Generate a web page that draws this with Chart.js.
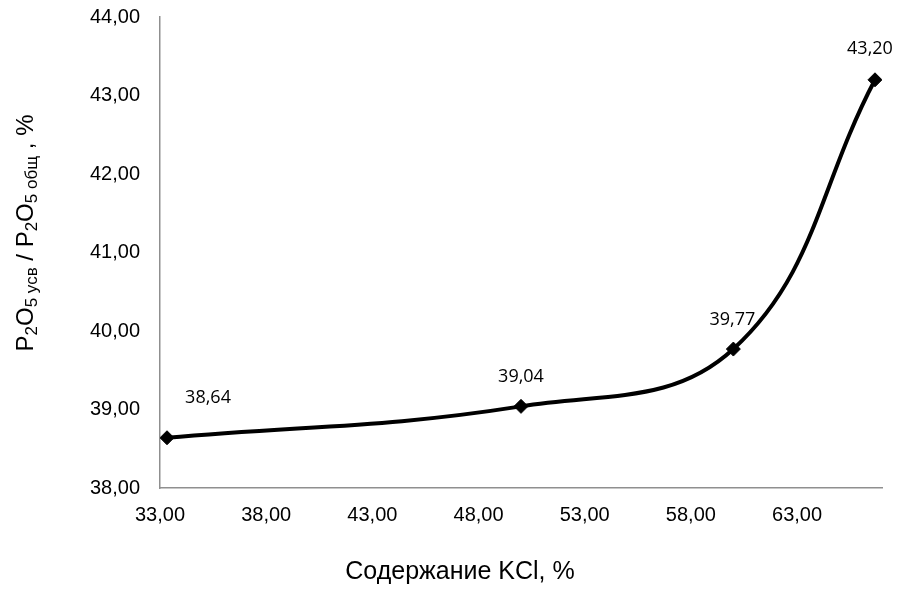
<!DOCTYPE html>
<html>
<head>
<meta charset="utf-8">
<script src="https://cdn.jsdelivr.net/npm/chart.js@4"></script>
<style>
  html,body{margin:0;padding:0;background:#fff;}
  #wrap{width:903px;height:589px;position:relative;}
</style>
</head>
<body>
<div id="wrap"><canvas id="c" width="903" height="589"></canvas></div>
<script>
// data
const kclContent = [33.33, 50.0, 60.0, 66.67];
const p2o5Ratio  = [38.64, 39.04, 39.77, 43.20];
const pointLabels = ["38,64", "39,04", "39,77", "43,20"];
// label placement relative to marker (px)
const labelOffsets = [[41,-40],[0,-29],[-1,-29],[-5,-31]];

const X_MIN = 33, X_MAX = 67, X_STEP = 5;
const Y_MIN = 38, Y_MAX = 44, Y_STEP = 1;

const fmt = v => v.toFixed(2).replace(".", ",");
const AXIS_FONT = "'Liberation Sans', Arial, sans-serif";

// values on the points
const pointLabelPlugin = {
  id: "pointLabels",
  afterDatasetsDraw(chart){
    const ctx = chart.ctx, meta = chart.getDatasetMeta(0);
    ctx.save();
    ctx.font = "18px 'Open Sans', 'Noto Sans', sans-serif";
    ctx.fillStyle = "#000";
    ctx.textAlign = "center"; ctx.textBaseline = "middle";
    meta.data.forEach((pt,i)=>{
      const o = labelOffsets[i];
      ctx.fillText(pointLabels[i], pt.x + o[0], pt.y + o[1]);
    });
    ctx.restore();
  }
};

// axis titles; the y one has subscripts: P2O5 усв / P2O5 общ , %
const titlesPlugin = {
  id: "titles",
  afterDraw(chart){
    const ctx = chart.ctx;
    ctx.save();
    ctx.fillStyle = "#000";
    ctx.font = "25px " + AXIS_FONT;
    ctx.textAlign = "center"; ctx.textBaseline = "middle";
    ctx.fillText("Содержание KCl, %", 460, 572);

    const parts = [
      ["P",0],["2",1],["O",0],["5 усв",1],[" / P",0],["2",1],["O",0],["5 общ",1],[" , %",0]
    ];
    const big = "24px " + AXIS_FONT, small = "17px " + AXIS_FONT;
    let total = 0;
    for(const [t,s] of parts){ ctx.font = s?small:big; total += ctx.measureText(t).width; }
    ctx.translate(24, 233);
    ctx.rotate(-Math.PI/2);
    ctx.textBaseline = "alphabetic"; ctx.textAlign = "left";
    let x = -total/2;
    for(const [t,s] of parts){
      ctx.font = s?small:big;
      ctx.fillText(t, x, s ? 13 : 9);
      x += ctx.measureText(t).width;
    }
    ctx.restore();
  }
};

const noEdgePadding = s => { s.paddingTop = 0; s.paddingBottom = 0; s.paddingLeft = 0; s.paddingRight = 0; };

new Chart(document.getElementById("c"), {
  type: "scatter",
  data: {
    datasets: [{
      data: kclContent.map((x,i)=>({x, y:p2o5Ratio[i]})),
      showLine: true,
      tension: 0.4,
      borderColor: "#000",
      borderWidth: 4,
      pointStyle: "rectRot",
      pointRadius: 7,
      pointHoverRadius: 7,
      pointBackgroundColor: "#000",
      pointBorderColor: "#000",
      pointBorderWidth: 1
    }]
  },
  options: {
    responsive: false,
    animation: false,
    events: [],
    layout: { padding: { top: 17, right: 21, left: 0, bottom: 0 } },
    plugins: { legend: { display: false }, tooltip: { enabled: false } },
    scales: {
      x: {
        type: "linear", min: X_MIN, max: X_MAX,
        afterBuildTicks: s => {
          const t = [];
          for(let v = X_MIN; v <= X_MAX; v += X_STEP) t.push({value: v});
          s.ticks = t;
        },
        afterFit: s => { s.height = 101; noEdgePadding(s); },
        grid: { display: false, drawTicks: false },
        border: { display: true, color: "#8f8f8f", width: 1.5 },
        ticks: { padding: 15, color: "#000", font: { family: AXIS_FONT, size: 20 }, callback: v => fmt(v), maxRotation: 0 }
      },
      y: {
        type: "linear", min: Y_MIN, max: Y_MAX,
        ticks: { stepSize: Y_STEP, padding: 20, color: "#000", font: { family: AXIS_FONT, size: 20 }, callback: v => fmt(v) },
        afterFit: s => { s.width = 160; noEdgePadding(s); },
        grid: { display: false, drawTicks: false },
        border: { display: true, color: "#8f8f8f", width: 1.5 }
      }
    }
  },
  plugins: [pointLabelPlugin, titlesPlugin]
});
</script>
</body>
</html>
